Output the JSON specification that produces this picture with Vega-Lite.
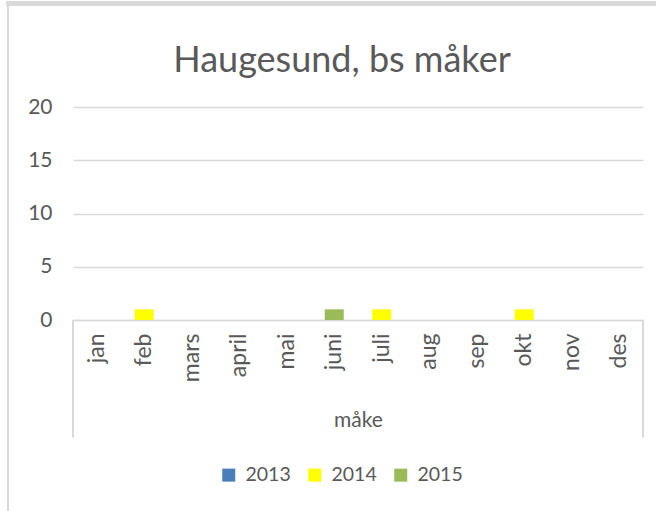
{
  "$schema": "https://vega.github.io/schema/vega-lite/v6.json",
  "width": 570,
  "height": 213,
  "autosize": {"type": "none"},
  "padding": {"left": 73, "top": 107, "right": 13, "bottom": 191},
  "background": "white",
  "title": {
    "text": "Haugesund, bs måker",
    "font": "Lato",
    "fontSize": 36,
    "fontWeight": "normal",
    "color": "#595959",
    "anchor": "middle",
    "dx": -16,
    "offset": -79
  },
  "config": {
    "view": {"stroke": null},
    "font": "Lato"
  },
  "data": {
    "values": [
      {"month": "feb", "year": "2014", "value": 1},
      {"month": "juni", "year": "2015", "value": 1},
      {"month": "juli", "year": "2014", "value": 1},
      {"month": "okt", "year": "2014", "value": 1}
    ]
  },
  "layer": [
    {
      "mark": {"type": "bar", "size": 19},
      "encoding": {
        "x": {
          "field": "month",
          "type": "nominal",
          "sort": null,
          "scale": {"domain": ["jan","feb","mars","april","mai","juni","juli","aug","sep","okt","nov","des"], "paddingInner": 0, "paddingOuter": 0},
          "axis": {
            "title": "måke",
            "titleFont": "Lato",
            "titleFontSize": 21,
            "titleFontWeight": "normal",
            "titleColor": "#595959",
            "titlePadding": 28,
            "labelAngle": -90,
            "labelAlign": "right",
            "labelBaseline": "middle",
            "labelFontSize": 23,
            "labelColor": "#595959",
            "labelPadding": 13,
            "ticks": false,
            "domainColor": "#d9d9d9",
            "domainWidth": 1.5
          }
        },
        "y": {
          "field": "value",
          "type": "quantitative",
          "scale": {"domain": [0, 20]},
          "axis": {
            "title": null,
            "values": [0, 5, 10, 15, 20],
            "domain": false,
            "ticks": false,
            "labelFontSize": 21,
            "labelColor": "#595959",
            "labelPadding": 21,
            "gridColor": "#d9d9d9",
            "gridWidth": 1.5
          }
        },
        "color": {
          "field": "year",
          "type": "nominal",
          "scale": {"domain": ["2013", "2014", "2015"], "range": ["#4A7EBB", "#FFFF00", "#9BBB59"]},
          "legend": {
            "title": null,
            "orient": "none",
            "legendX": 146,
            "legendY": 358,
            "direction": "horizontal",
            "symbolType": "square",
            "symbolSize": 169,
            "symbolStrokeWidth": 0,
            "labelFontSize": 19.5,
            "labelColor": "#595959",
            "labelOffset": 7,
            "columnPadding": 14
          }
        }
      }
    },
    {
      "mark": {"type": "rule", "color": "#d9d9d9", "strokeWidth": 1.5, "clip": false},
      "encoding": {
        "x": {"datum": "jan", "bandPosition": 0, "type": "nominal"},
        "y": {"datum": 0, "type": "quantitative"},
        "y2": {"datum": -11}
      }
    },
    {
      "mark": {"type": "rule", "color": "#d9d9d9", "strokeWidth": 1.5, "clip": false},
      "encoding": {
        "x": {"datum": "des", "bandPosition": 1, "type": "nominal"},
        "y": {"datum": 0, "type": "quantitative"},
        "y2": {"datum": -11}
      }
    },
    {
      "mark": {"type": "rule", "color": "#d9d9d9", "strokeWidth": 2, "clip": false},
      "encoding": {
        "x": {"datum": "jan", "bandPosition": -1.368, "type": "nominal"},
        "y": {"datum": 29.7, "type": "quantitative"},
        "y2": {"datum": -18}
      }
    },
    {
      "mark": {"type": "rule", "color": "#d9d9d9", "strokeWidth": 5, "clip": false},
      "encoding": {
        "x": {"datum": "jan", "bandPosition": -1.4, "type": "nominal"},
        "x2": {"datum": "des", "bandPosition": 1.3},
        "y": {"datum": 29.72, "type": "quantitative"}
      }
    }
  ]
}
